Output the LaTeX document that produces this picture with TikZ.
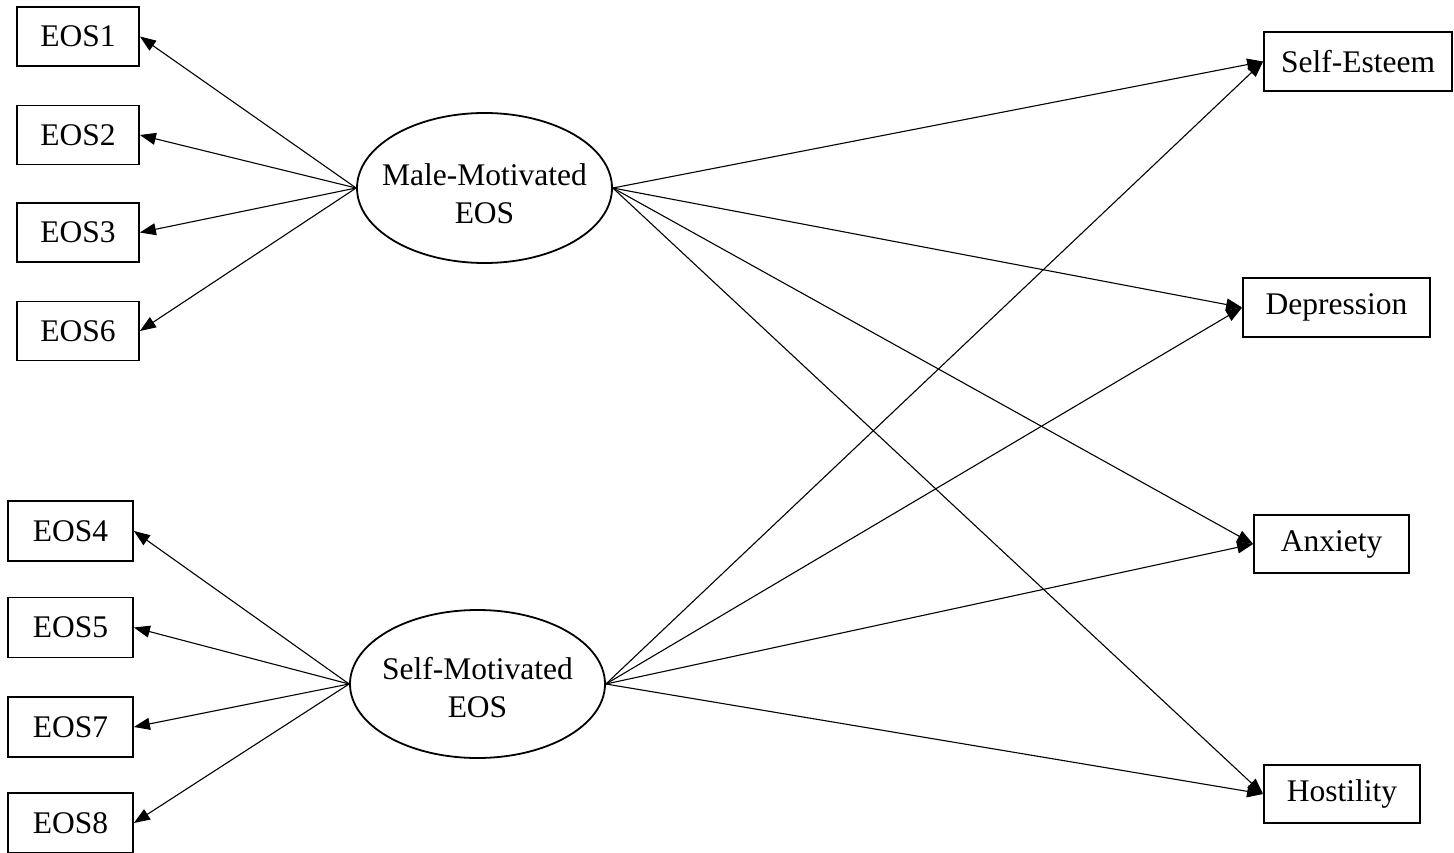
\documentclass[tikz,border=0pt]{standalone}
\usepackage{fontspec}
\setmainfont{Liberation Serif}
\usetikzlibrary{shapes.geometric,arrows.meta}
\begin{document}
\begin{tikzpicture}[x=1pt,y=-1pt,
  every node/.style={font=\fontsize{31.5}{38}\selectfont},
  obsbox/.style={draw,line width=1.8pt,inner sep=0pt,align=center},
  latent/.style={draw,ellipse,line width=1.8pt,inner xsep=-45pt,inner ysep=0pt,minimum width=255pt,align=center},
  path/.style={line width=1.1pt,-{Triangle[length=16pt,width=12pt]}}]
\useasboundingbox (0,0) rectangle (1454,853);
% left observed boxes, upper group
\node[obsbox,minimum width=122pt,minimum height=59pt] (eos1) at (78,36.5) {EOS1};
\node[obsbox,minimum width=122pt,minimum height=59pt] (eos2) at (78,135) {EOS2};
\node[obsbox,minimum width=122pt,minimum height=59pt] (eos3) at (78,232.5) {EOS3};
\node[obsbox,minimum width=122pt,minimum height=59pt] (eos6) at (78,331) {EOS6};
% left observed boxes, lower group
\node[obsbox,minimum width=125pt,minimum height=60pt] (eos4) at (70.5,531) {EOS4};
\node[obsbox,minimum width=125pt,minimum height=60pt] (eos5) at (70.5,627.5) {EOS5};
\node[obsbox,minimum width=125pt,minimum height=60pt] (eos7) at (70.5,727) {EOS7};
\node[obsbox,minimum width=125pt,minimum height=60pt] (eos8) at (70.5,823) {EOS8};
% latent
\node[latent,minimum height=150pt] (male) at (484.5,188) {\rule{0pt}{33pt}Male-Motivated\\EOS};
\node[latent,minimum height=148pt] (self) at (477.5,684) {\rule{0pt}{30pt}Self-Motivated\\EOS};
% outcomes
\node[obsbox,minimum width=188pt,minimum height=59pt] (est) at (1358,61.5) {Self-Esteem};
\node[obsbox,minimum width=187pt,minimum height=59pt] (dep) at (1336.5,307.5) {Depression};
\node[obsbox,minimum width=155pt,minimum height=58pt] (anx) at (1331.5,544) {Anxiety};
\node[obsbox,minimum width=156pt,minimum height=58pt] (hos) at (1342,794) {Hostility};
% loadings
\foreach \b in {eos1,eos2,eos3,eos6} \draw[path] (male.west) -- (\b.east);
\foreach \b in {eos4,eos5,eos7,eos8} \draw[path] (self.west) -- (\b.east);
% structural paths
\foreach \o in {est,dep,anx,hos} {
  \draw[path] (male.east) -- (\o.west);
  \draw[path] (self.east) -- (\o.west);
}
\end{tikzpicture}
\end{document}
